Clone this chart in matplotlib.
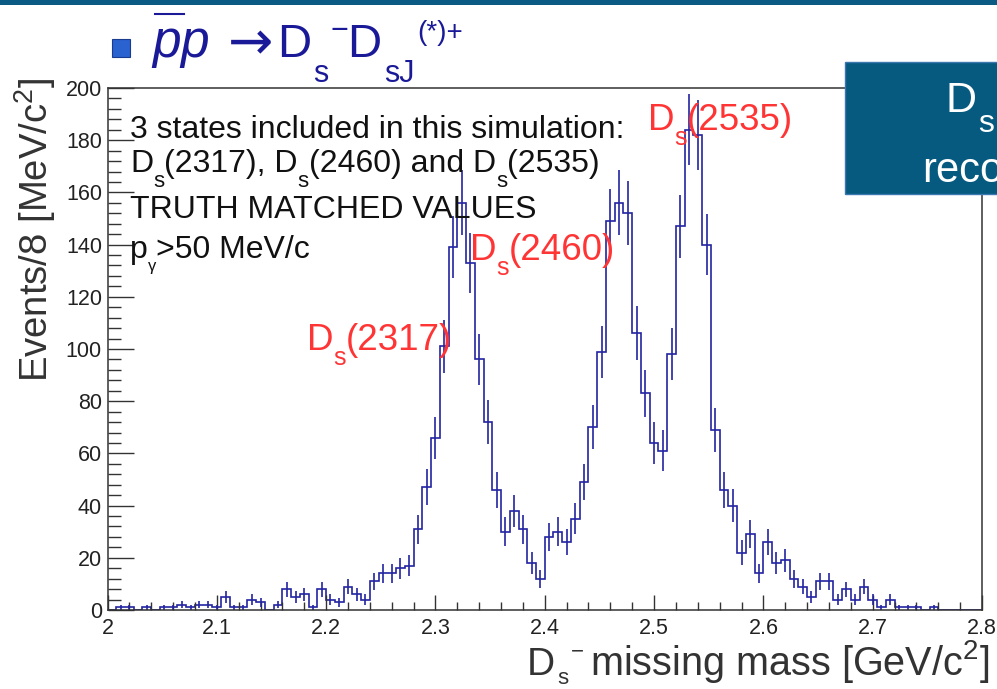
import numpy as np
import matplotlib
matplotlib.use('Agg')
import matplotlib.pyplot as plt
from matplotlib.patches import Rectangle
from matplotlib.lines import Line2D
from matplotlib.ticker import MultipleLocator, FixedLocator

plt.rcParams['font.family'] = ['Liberation Sans', 'DejaVu Sans']
plt.rcParams['mathtext.fontset'] = 'custom'
plt.rcParams['mathtext.rm'] = 'Liberation Sans'
plt.rcParams['mathtext.it'] = 'Liberation Sans:italic'
plt.rcParams['mathtext.default'] = 'regular'

# D_s^- missing mass, 100 bins of 8 MeV/c^2 between 2.0 and 2.8 GeV/c^2
masa_min = 2.0
masa_max = 2.8
eventos = [0, 1, 1, 0, 1, 0, 1, 1, 2, 1,
           2, 2, 1, 5, 1, 1, 4, 3, 0, 2,
           8, 5, 6, 1, 8, 4, 3, 9, 6, 4,
           11, 14, 14, 16, 17, 31, 47, 66, 101, 139,
           156, 133, 96, 72, 46, 30, 38, 31, 18, 12,
           28, 30, 26, 35, 49, 70, 99, 149, 156, 152,
           106, 83, 64, 61, 98, 147, 184, 182, 140, 69,
           46, 40, 22, 29, 14, 26, 18, 19, 12, 9,
           5, 11, 11, 4, 8, 4, 9, 4, 1, 4,
           1, 1, 1, 0, 1, 0, 0, 0, 0, 0]

x_ticks = [2.0, 2.1, 2.2, 2.3, 2.4, 2.5, 2.6, 2.7, 2.8]
x_tick_labels = ['2', '2.1', '2.2', '2.3', '2.4', '2.5', '2.6', '2.7', '2.8']
y_ticks = [0, 20, 40, 60, 80, 100, 120, 140, 160, 180, 200]

estados = ['2317', '2460', '2535']

W, H = 997, 689


def fpx(x, y):
    # pixel (from top-left) -> figure fraction
    return x / W, 1 - y / H


fig = plt.figure(figsize=(W / 100, H / 100), dpi=100)
fig.patch.set_facecolor('white')
renderer = fig.canvas.get_renderer()


def renglon(partes, x, y, color, **kw):
    # writes pieces one after the other: (text, fontsize, vertical shift in px)
    for texto, size, dy in partes:
        t = fig.text(*fpx(x, y + dy), texto, fontsize=size, color=color,
                     va='baseline', **kw)
        x = t.get_window_extent(renderer).x1
    return x


ax = fig.add_axes([107.5 / W, 1 - 610 / H, (982 - 107.5) / W, (610 - 88) / H])

bordes = np.linspace(masa_min, masa_max, len(eventos) + 1)
centros = 0.5 * (bordes[:-1] + bordes[1:])
valores = np.array(eventos, dtype=float)
azul = '#2424a2'

ax.stairs(valores, bordes, color=azul, lw=1.2)
llenos = valores > 0
ax.errorbar(centros[llenos], valores[llenos], yerr=np.sqrt(valores[llenos]),
            fmt='none', ecolor=azul, elinewidth=1.2, capsize=0)

ax.set_xlim(masa_min, masa_max)
ax.set_ylim(y_ticks[0], y_ticks[-1])
ax.xaxis.set_major_locator(FixedLocator(x_ticks))
ax.set_xticklabels(x_tick_labels)
ax.xaxis.set_minor_locator(MultipleLocator(0.02))
ax.yaxis.set_major_locator(FixedLocator(y_ticks))
ax.yaxis.set_minor_locator(MultipleLocator(4))

gris = '#333333'
ax.tick_params(axis='x', which='major', direction='in', length=11, width=1,
               pad=6, labelsize=15.5, color=gris, labelcolor='#222222')
ax.tick_params(axis='x', which='minor', direction='in', length=5.5, width=1, color=gris)
ax.tick_params(axis='y', which='major', direction='in', length=19, width=1,
               pad=4, labelsize=15.5, color=gris, labelcolor='#222222')
ax.tick_params(axis='y', which='minor', direction='in', length=9.5, width=1, color=gris)
for s in ax.spines.values():
    s.set_color(gris)
    s.set_linewidth(1.1)

# ejes
fig.text(*fpx(35, 230), 'Events/8 [MeV/c$^{2}$]', rotation=90, fontsize=27.5,
         ha='center', va='center', color=gris)
fig.text(*fpx(527, 675), 'D', fontsize=28, color=gris, va='baseline')
fig.text(*fpx(557, 684), 's', fontsize=16, color=gris, va='baseline')
fig.text(*fpx(571, 657), '\u2212', fontsize=16, color=gris, va='baseline')
fig.text(*fpx(590, 675), 'missing mass [GeV/c$^{2}$]', fontsize=28.5, color=gris,
         va='baseline')

# texto de la simulacion
negro = '#111111'
renglon([('3 states included in this simulation:', 23, 0)], 130, 138, negro)
renglon([('D', 23, 0), ('s', 16, 15), ('(2317), D', 23, 0), ('s', 16, 15),
         ('(2460) and D', 23, 0), ('s', 16, 15), ('(2535)', 23, 0)], 130, 172, negro)
renglon([('TRUTH MATCHED VALUES', 23, 0)], 130, 218, negro)
renglon([('p', 23, 0), ('\u03b3', 12, 13), ('>50 MeV/c', 23, 0)], 130, 258, negro)

# nombres de los picos
rojo = '#ff3535'
for estado, (xp, yp) in zip(estados, [(307, 350), (470, 260), (648, 130)]):
    renglon([('D', 26.5, 0), ('s', 18, 15), ('(' + estado + ')', 26.5, 0)], xp, yp, rojo)

# titulo de la diapositiva
navy = '#1a1a99'
fig.add_artist(Rectangle(fpx(0, 5), 1, 5 / H, transform=fig.transFigure,
                         facecolor='#0a5a84', edgecolor='none'))
fig.add_artist(Rectangle(fpx(112, 57), 18 / W, 18 / H, transform=fig.transFigure,
                         facecolor='#2a62d0', edgecolor='#1a3c90', lw=0.8))
fig.text(*fpx(151, 57), '$\\mathit{pp}$', fontsize=37, color=navy, va='baseline')
x0, y0 = fpx(155, 14)
x1, _ = fpx(184, 14)
fig.add_artist(Line2D([x0, x1], [y0, y0], transform=fig.transFigure, color=navy, lw=1.5))
fig.text(*fpx(228, 59), '\u2192', fontsize=39, color=navy, va='baseline',
         family='DejaVu Sans')
fig.text(*fpx(277, 57), 'D', fontsize=34, color=navy, va='baseline')
fig.text(*fpx(313, 82), 's', fontsize=22, color=navy, va='baseline')
fig.text(*fpx(330, 39), '\u2212', fontsize=22, color=navy, va='baseline')
fig.text(*fpx(347, 57), 'D', fontsize=34, color=navy, va='baseline')
fig.text(*fpx(384, 82), 'sJ', fontsize=22, color=navy, va='baseline')
fig.text(*fpx(417, 40), '(*)+', fontsize=20, color=navy, va='baseline')

# recuadro de la derecha
fig.add_artist(Rectangle(fpx(845, 194), (1000 - 845) / W, (194 - 62) / H,
                         transform=fig.transFigure, facecolor='#065a80',
                         edgecolor='#3c78b0', lw=1))
fig.text(*fpx(945, 112), 'D', fontsize=31, color='white', va='baseline')
fig.text(*fpx(978, 132), 's', fontsize=23, color='white', va='baseline')
fig.text(*fpx(922, 182), 'reconstructed', fontsize=30, color='white', va='baseline')

fig.savefig('out.png', dpi=100)
